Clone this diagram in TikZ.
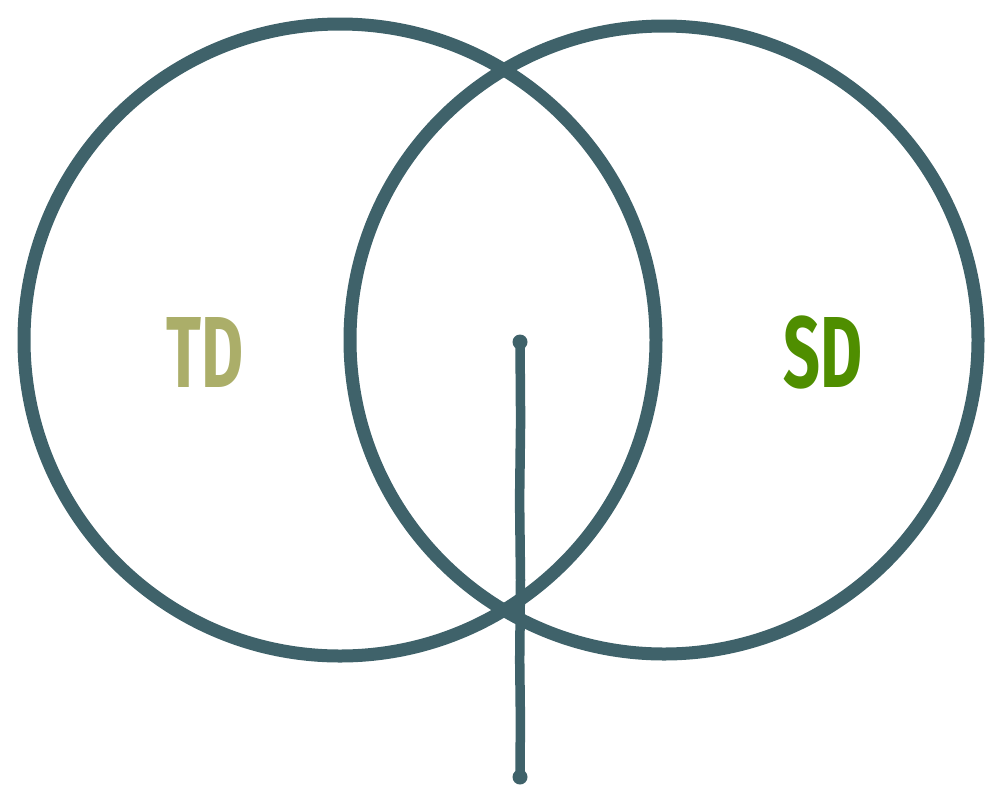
\documentclass[tikz,border=0pt]{standalone}
\usepackage{fontspec}
\newfontfamily\condfont[FakeStretch=0.64]{Fira Sans}
\definecolor{ring}{HTML}{3F626A}
\definecolor{tdcol}{HTML}{ABAE69}
\definecolor{sdcol}{HTML}{4F8E00}
\begin{document}
\begin{tikzpicture}[x=1pt,y=-1pt,
  ringstyle/.style={draw=ring,line width=13pt},
  label/.style={font=\condfont\bfseries\fontsize{101}{101}\selectfont,inner sep=0pt,anchor=base},
  stem/.style={draw=ring,line width=9.5pt,line cap=round,line join=round}]
\useasboundingbox (0,0) rectangle (985,788);
\draw[ringstyle] (340,340) circle (316);
\draw[ringstyle] (664,340) circle (314);
\node[label,text=tdcol] (td) at (205,387) {TD};
\node[label,text=sdcol] (sd) at (823,387) {SD};
\coordinate (top) at (520,342);
\coordinate (bot) at (520,777);
\draw[stem] (top) -- (520.6,420) -- (519.6,500) -- (520.5,580) -- (519.7,660) -- (520.4,720) -- (bot);
\fill[ring] (top) circle (7.5);
\fill[ring] (bot) circle (7.5);
\end{tikzpicture}
\end{document}
